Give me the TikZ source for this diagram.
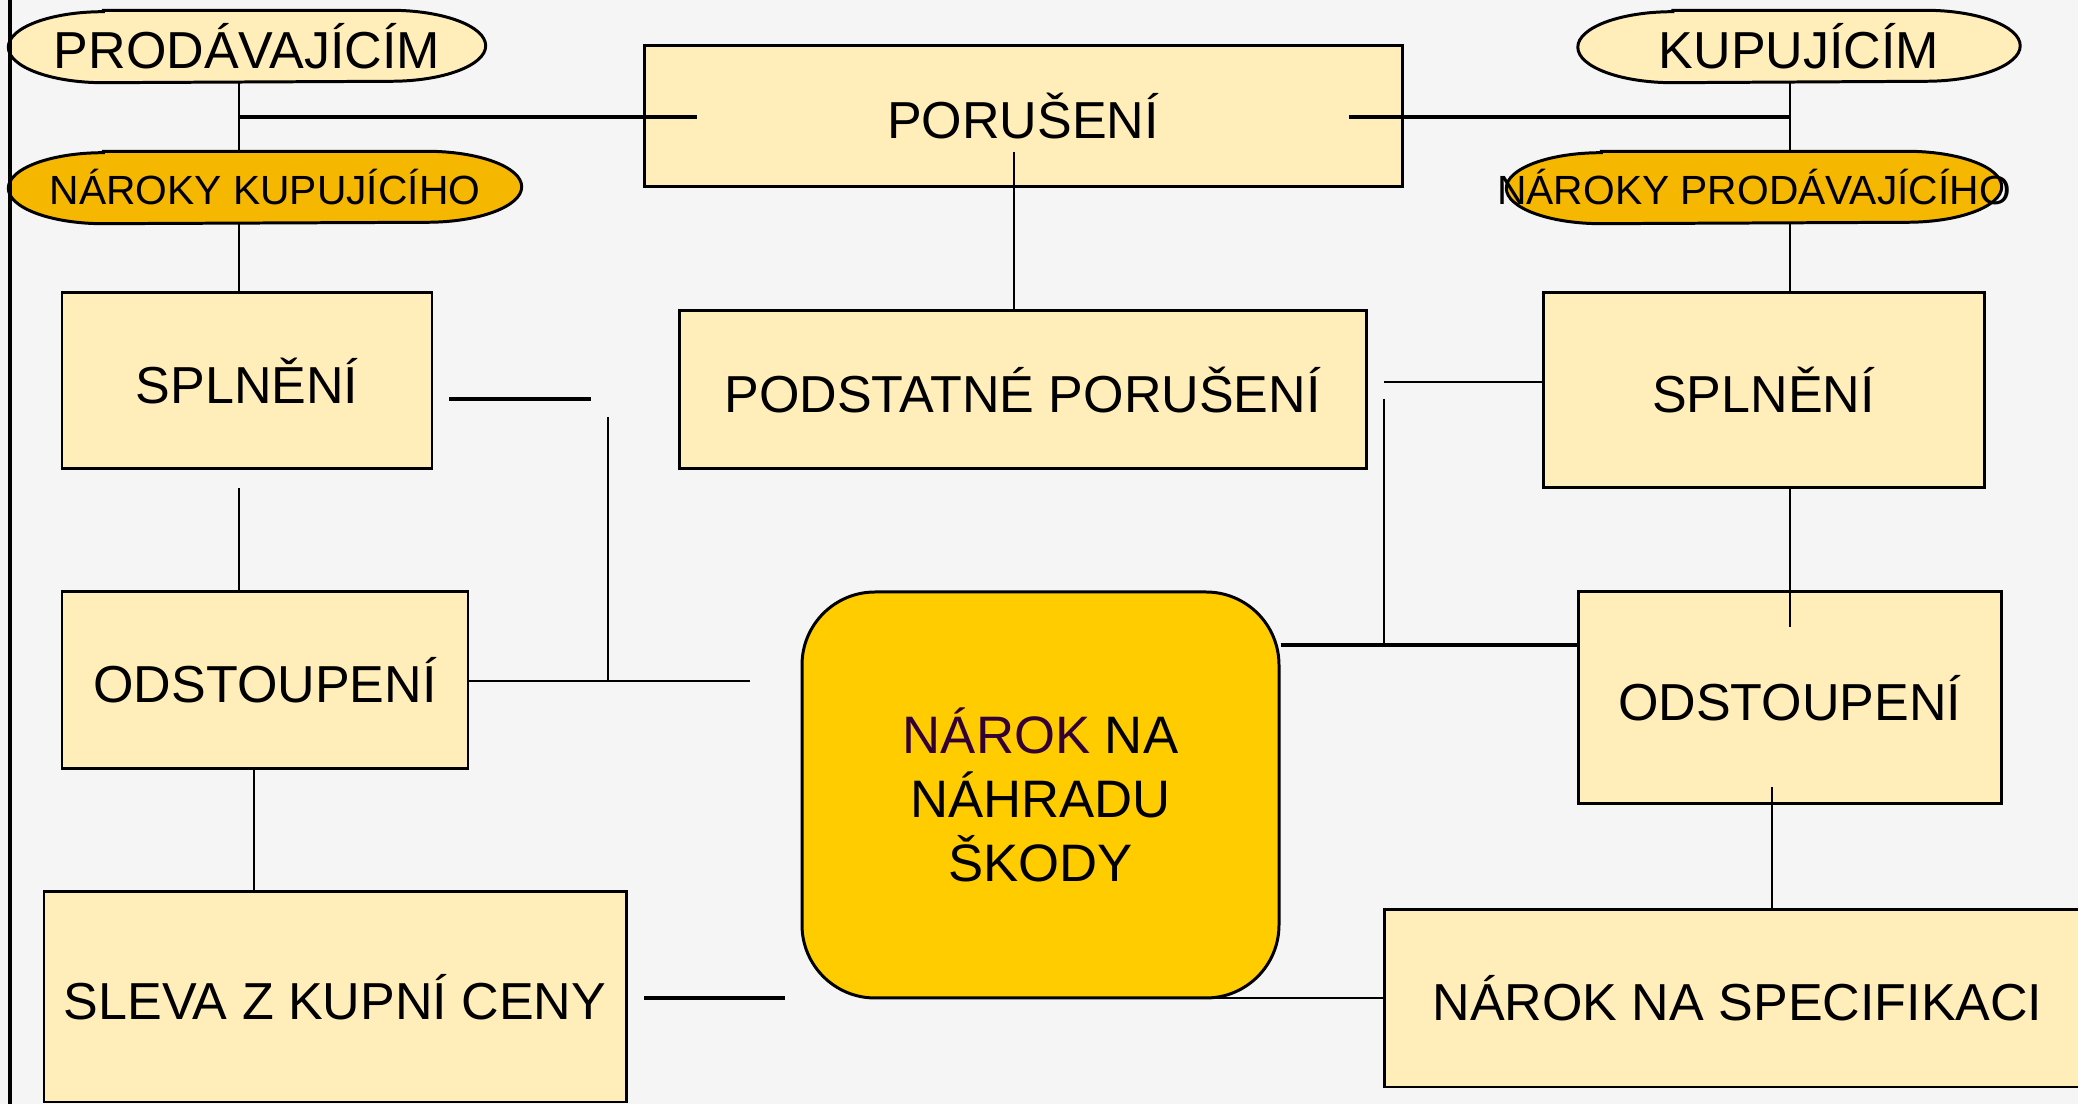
\documentclass[tikz,border=0pt]{standalone}
\usepackage{fontspec}
\setmainfont{Liberation Sans}
\usetikzlibrary{backgrounds}

\definecolor{pale}{HTML}{FFEDBA}
\definecolor{amber}{HTML}{F5B700}
\definecolor{gold}{HTML}{FFCC00}
\definecolor{paper}{HTML}{F5F5F5}
\definecolor{plum}{HTML}{330033}

\tikzset{
  box/.style={rectangle, draw, line width=0.85pt, fill=pale, inner sep=0pt, align=center,
              font=\fontsize{14.8}{18}\selectfont},
  pill/.style={rectangle, inner sep=0pt, minimum height=0.71cm},
  link/.style={line width=0.75pt},
}

\begin{document}
\begin{tikzpicture}
                    \useasboundingbox (0,0) rectangle (20.78,-11.04);
                    \begin{scope}[on background layer]
                        \fill[paper] (0,0) rectangle (20.78,-11.04);
                    \end{scope}
                    \draw[line width=0.9pt] (0.1,0) -- (0.1,-11.04);

                    \node (prod) [pill, minimum width=4.76cm, font=\fontsize{14.8}{18}\selectfont] at (2.47, -0.465) {PRODÁVAJÍCÍM};
                    \node (kup) [pill, minimum width=4.41cm, font=\fontsize{14.8}{18}\selectfont] at (17.99, -0.465) {KUPUJÍCÍM};
                    \node (nkup) [pill, minimum width=5.12cm, font=\fontsize{11.6}{14}\selectfont] at (2.65, -1.875) {NÁROKY KUPUJÍCÍHO};
                    \node (nprod) [pill, minimum width=4.94cm, font=\fontsize{11.6}{14}\selectfont] at (17.54, -1.875) {\makebox[0pt]{NÁROKY PRODÁVAJÍCÍHO}};

                    \node (por) [box, minimum width=7.58cm, minimum height=1.41cm] at (10.23, -1.165) {PORUŠENÍ};
                    \node (podst) [box, minimum width=6.87cm, minimum height=1.58cm] at (10.225, -3.90) {PODSTATNÉ PORUŠENÍ};
                    \node (splL) [box, minimum width=3.70cm, minimum height=1.76cm] at (2.47, -3.81) {SPLNĚNÍ};
                    \node (splR) [box, minimum width=4.41cm, minimum height=1.95cm] at (17.635, -3.905) {SPLNĚNÍ};
                    \node (odsL) [box, minimum width=4.06cm, minimum height=1.77cm] at (2.65, -6.805) {ODSTOUPENÍ};
                    \node (odsR) [box, minimum width=4.23cm, minimum height=2.12cm] at (17.895, -6.98) {ODSTOUPENÍ};
                    \node (sleva) [box, minimum width=5.82cm, minimum height=2.10cm] at (3.35, -9.97) {SLEVA Z KUPNÍ CENY};
                    \node (spec) [box, minimum width=7.07cm, minimum height=1.77cm] at (17.375, -9.985) {NÁROK NA SPECIFIKACI};
                    \node (skoda) [box, fill=gold, rounded corners=0.73cm, minimum width=4.77cm, minimum height=4.06cm,
                                   font=\fontsize{15}{18.1}\selectfont] at (10.405, -7.95) {{\color{plum}NÁROK} NA\\NÁHRADU\\ŠKODY};

                    % pill outlines behind the texts
                    \begin{scope}[on background layer]
                        \foreach \n/\c in {prod/pale, kup/pale, nkup/amber, nprod/amber}
                            \draw[line width=0.85pt, fill=\c] ([xshift=0.95cm]\n.north west) -- ([xshift=-0.95cm]\n.north east)
                                arc[start angle=90, end angle=-90, x radius=0.95cm, y radius=0.355cm]
                                -- ([xshift=0.95cm]\n.south west)
                                arc[start angle=270, end angle=90, x radius=0.95cm, y radius=0.355cm] -- cycle;
                    \end{scope}

                    \coordinate (jl) at (2.39, -1.17);
                    \coordinate (porL) at (6.97, -1.17);
                    \coordinate (jr) at (17.90, -1.17);
                    \coordinate (porR) at (13.49, -1.17);
                    \coordinate (porC) at (10.14, -1.52);
                    \coordinate (a1) at (4.49, -3.99);
                    \coordinate (a2) at (5.91, -3.99);
                    \coordinate (b1) at (6.08, -4.17);
                    \coordinate (b2) at (6.08, -6.81);
                    \coordinate (c1) at (7.50, -6.81);
                    \coordinate (d1) at (2.39, -4.88);
                    \coordinate (e1) at (2.54, -8.0);
                    \coordinate (f0) at (6.44, -9.98);
                    \coordinate (f1) at (7.85, -9.98);
                    \coordinate (g1) at (13.84, -3.82);
                    \coordinate (h1) at (13.84, -3.99);
                    \coordinate (h2) at (13.84, -6.45);
                    \coordinate (i1) at (17.90, -6.27);
                    \coordinate (k1) at (17.72, -7.87);
                    \coordinate (m1) at (12.13, -9.98);

                    \draw[link] (prod.south -| jl) -- (nkup.north -| jl);
                    \draw[link, line width=0.95pt] (jl) -- (porL);
                    \draw[link] (nkup.south -| jl) -- (splL.north -| jl);
                    \draw[link] (kup.south -| jr) -- (nprod.north -| jr);
                    \draw[link, line width=0.95pt] (porR) -- (jr);
                    \draw[link] (nprod.south -| jr) -- (splR.north -| jr);
                    \draw[link] (porC) -- (podst.north -| porC);
                    \draw[link, line width=0.95pt] (a1) -- (a2);
                    \draw[link] (b1) -- (b2);
                    \draw[link] (odsL.east |- c1) -- (c1);
                    \draw[link] (d1) -- (odsL.north -| d1);
                    \draw[link] (odsL.south -| e1) -- (sleva.north -| e1);
                    \draw[link, line width=0.95pt] (f0) -- (f1);
                    \draw[link] (g1) -- (splR.west |- g1);
                    \draw[link] (h1) -- (h2);
                    \draw[link, line width=1.2pt] (skoda.east |- h2) -- (odsR.west |- h2);
                    \draw[link] (splR.south -| i1) -- (i1);
                    \draw[link] (k1) -- (spec.north -| k1);
                    \draw[link] (m1) -- (spec.west |- m1);
                \end{tikzpicture}
\end{document}
